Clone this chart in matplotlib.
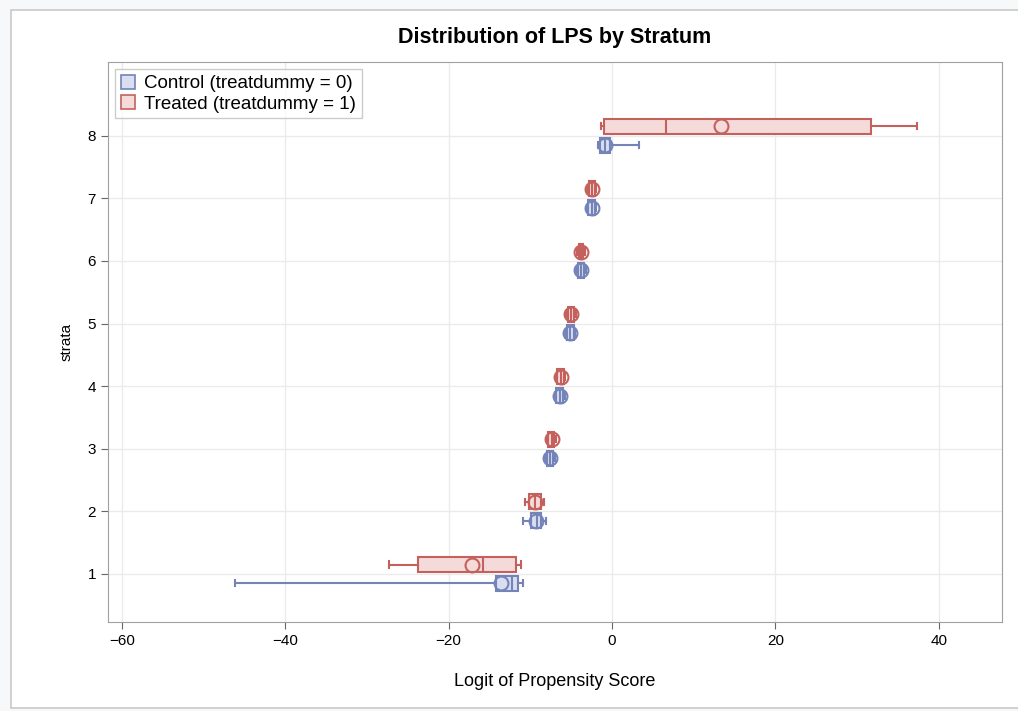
import matplotlib
matplotlib.use('Agg')
import matplotlib.pyplot as plt
from matplotlib.patches import Rectangle, Patch

plt.rcParams['font.family'] = ['Liberation Sans', 'DejaVu Sans']

# --- data ---
strata = [1, 2, 3, 4, 5, 6, 7, 8]

# control (treatdummy = 0)
c_whislo = [-46.2, -10.9, -8.2, -7.0, -5.7, -4.4, -3.1, -1.7]
c_q1     = [-14.2, -9.9, -8.0, -6.8, -5.5, -4.2, -2.9, -1.5]
c_med    = [-12.3, -9.2, -7.6, -6.4, -5.1, -3.8, -2.5, -0.9]
c_q3     = [-11.5, -8.7, -7.2, -6.0, -4.7, -3.4, -2.1, -0.2]
c_whishi = [-10.9, -8.1, -7.0, -5.8, -4.5, -3.2, -1.9, 3.3]
c_mean   = [-13.6, -9.3, -7.6, -6.4, -5.1, -3.8, -2.5, -0.9]

# treated (treatdummy = 1)
t_whislo = [-27.3, -10.6, -8.0, -6.9, -5.6, -4.3, -3.0, -1.3]
t_q1     = [-23.8, -10.1, -7.8, -6.7, -5.4, -4.1, -2.8, -1.0]
t_med    = [-15.8, -9.4, -7.4, -6.3, -5.0, -3.8, -2.4, 6.6]
t_q3     = [-11.7, -8.7, -7.1, -5.9, -4.6, -3.5, -2.1, 31.7]
t_whishi = [-11.1, -8.3, -6.9, -5.7, -4.4, -3.3, -1.9, 37.3]
t_mean   = [-17.1, -9.4, -7.4, -6.3, -5.0, -3.8, -2.4, 13.4]

ctrl_edge, ctrl_fill = '#7483B8', '#D9DEF0'
trt_edge, trt_fill = '#C5615C', '#F5DADA'


def make_stats(lo, q1, med, q3, hi, mean):
    return [dict(whislo=a, q1=b, med=c, q3=d, whishi=e, mean=f, fliers=[])
            for a, b, c, d, e, f in zip(lo, q1, med, q3, hi, mean)]


fig = plt.figure(figsize=(10.18, 7.11), dpi=100)
fig.patch.set_facecolor('#F7F8FA')
fig.patches.append(Rectangle((0.011, 0.004), 1.0, 0.982, transform=fig.transFigure,
                             facecolor='white', edgecolor='#C8C8C8', lw=1.2, zorder=-1))

ax = fig.add_axes([0.106, 0.125, 0.878, 0.788])

for stats, off, edge, fill in [
        (make_stats(c_whislo, c_q1, c_med, c_q3, c_whishi, c_mean), -0.15, ctrl_edge, ctrl_fill),
        (make_stats(t_whislo, t_q1, t_med, t_q3, t_whishi, t_mean), 0.15, trt_edge, trt_fill)]:
    ax.bxp(stats, positions=[s + off for s in strata], vert=False, widths=0.24,
           patch_artist=True, showmeans=True, manage_ticks=False,
           boxprops=dict(facecolor=fill, edgecolor=edge, lw=1.5),
           medianprops=dict(color=edge, lw=1.5),
           whiskerprops=dict(color=edge, lw=1.5),
           capprops=dict(color=edge, lw=1.5),
           capwidths=0.1,
           meanprops=dict(marker='o', markerfacecolor='none', markeredgecolor=edge,
                          markersize=10, markeredgewidth=1.5))

ax.set_xlim(-61.7, 47.7)
ax.set_ylim(0.23, 9.18)
ax.set_xticks([-60, -40, -20, 0, 20, 40])
ax.set_yticks(strata)
ax.tick_params(labelsize=11, color='#666666', length=5)
ax.grid(True, color='#EBEBEB', lw=1)
ax.set_axisbelow(True)
for sp in ax.spines.values():
    sp.set_color('#A0A0A0')

ax.set_xlabel('Logit of Propensity Score', fontsize=13, labelpad=18)
ax.set_ylabel('strata', fontsize=11, labelpad=10)
fig.text(0.545, 0.947, 'Distribution of LPS by Stratum', fontsize=15.5,
         fontweight='bold', ha='center', va='center')

handles = [Patch(facecolor=ctrl_fill, edgecolor=ctrl_edge, lw=1.2),
           Patch(facecolor=trt_fill, edgecolor=trt_edge, lw=1.2)]
leg = ax.legend(handles, ['Control (treatdummy = 0)', 'Treated (treatdummy = 1)'],
                loc='upper left', fontsize=13.5, fancybox=False, handlelength=0.75,
                handleheight=0.75, handletextpad=0.5, borderpad=0.3, labelspacing=0.15,
                borderaxespad=0.4)
leg.get_frame().set_edgecolor('#C0C0C0')

plt.savefig('out.png', dpi=100)
